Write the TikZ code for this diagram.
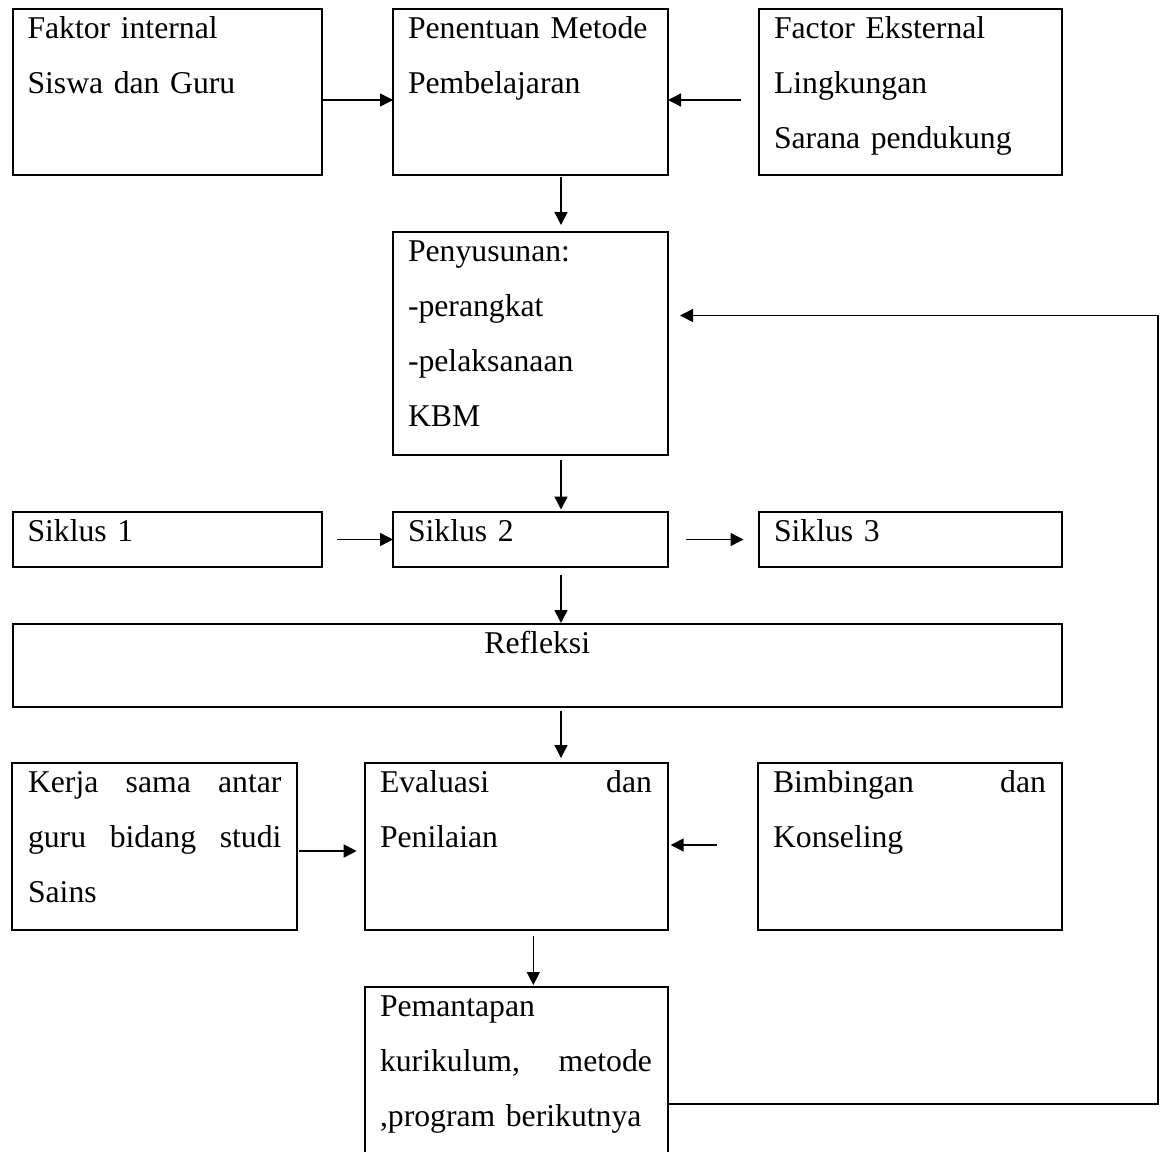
\documentclass[tikz,border=0pt]{standalone}
\usepackage{fontspec}
\setmainfont{Liberation Serif}
\usetikzlibrary{arrows.meta}
\newcommand{\boxfont}{\fontsize{31.7}{55}\selectfont}
\newcommand{\jsp}{\hskip 0pt plus 1filll\relax}

\begin{document}
\begin{tikzpicture}[
  x=1pt, y=1pt,
  box/.style   = {draw=black, line width=2pt, anchor=north west,
                  inner sep=0pt, outer sep=0pt},
  txt/.style   = {anchor=north west, inner sep=0pt, outer sep=0pt,
                  align=left, text width=#1, font=\boxfont,
                  execute at begin node=\strut},
  arr/.style   = {-{Triangle[length=13pt,width=13pt]},
                  line width=1.5pt, draw=black},
]
\useasboundingbox (0,0) rectangle (1166,-1151);

\node[box, minimum width=309.5pt, minimum height=165.5pt] (fakin) at (12.5,-9) {};
\node[box, minimum width=275pt,   minimum height=165.5pt] (penm)  at (393,-9)  {};
\node[box, minimum width=303pt,   minimum height=165.5pt] (fakek) at (759,-9)  {};
\node[box, minimum width=275pt,   minimum height=222.5pt] (pny)   at (393,-232) {};
\node[box, minimum width=309.5pt, minimum height=55pt]    (sik1)  at (12.5,-512) {};
\node[box, minimum width=275pt,   minimum height=55pt]    (sik2)  at (393,-512) {};
\node[box, minimum width=303pt,   minimum height=55pt]    (sik3)  at (759,-512) {};
\node[box, minimum width=1049.5pt, minimum height=82.5pt] (refl)  at (12.5,-624) {};
\node[box, minimum width=285pt,   minimum height=167pt]   (kerja) at (12,-763)  {};
\node[box, minimum width=303pt,   minimum height=167pt]   (eval)  at (365,-763) {};
\node[box, minimum width=304pt,   minimum height=167pt]   (bimb)  at (758,-763) {};
\node[box, minimum width=303pt,   minimum height=234pt]   (pmt)   at (365,-987) {};

\node[txt=278pt] (fakintx) at ([xshift=15pt,yshift=9pt]fakin.north west)
    {Faktor internal\\Siswa dan Guru};
\node[txt=244pt] (penmtx) at ([xshift=15pt,yshift=9pt]penm.north west)
    {Penentuan Metode\\Pembelajaran};
\node[txt=272pt] (fakektx) at ([xshift=15pt,yshift=9pt]fakek.north west)
    {Factor Eksternal\\Lingkungan\\Sarana pendukung};
\node[txt=244pt] (pnytx) at ([xshift=15pt,yshift=9pt]pny.north west)
    {Penyusunan:\\-perangkat\\-pelaksanaan\\KBM};
\node[txt=278pt] (sik1tx) at ([xshift=15pt,yshift=9pt]sik1.north west) {Siklus 1};
\node[txt=244pt] (sik2tx) at ([xshift=15pt,yshift=9pt]sik2.north west) {Siklus 2};
\node[txt=272pt] (sik3tx) at ([xshift=15pt,yshift=9pt]sik3.north west) {Siklus 3};
\node[txt=400pt, align=center, anchor=north] (refltx)
    at ([yshift=9pt]refl.north) {Refleksi};
\node[txt=253.5pt] (kerjatx) at ([xshift=16pt,yshift=9pt]kerja.north west)
    {Kerja\jsp sama\jsp antar\\guru\jsp bidang\jsp studi\\Sains};
\node[txt=272pt] (evaltx) at ([xshift=15pt,yshift=9pt]eval.north west)
    {Evaluasi\jsp dan\\Penilaian};
\node[txt=273pt] (bimbtx) at ([xshift=15pt,yshift=9pt]bimb.north west)
    {Bimbingan\jsp dan\\Konseling};
\node[txt=272pt] (pmttx) at ([xshift=15pt,yshift=9pt]pmt.north west)
    {Pemantapan\\kurikulum,\jsp metode\\,program berikutnya};

\draw[arr] ([yshift=-8.25pt]fakin.east) -- ([yshift=-8.25pt]penm.west);
\draw[arr, shorten <=18pt] ([yshift=-8.25pt]fakek.west) -- ([yshift=-8.25pt]penm.east);
\draw[arr, shorten <=2.5pt, shorten >=7pt]
    ([xshift=30.5pt]penm.south) -- ([xshift=30.5pt]pny.north);
\draw[arr, shorten <=5.5pt, shorten >=2.5pt]
    ([xshift=30.5pt]pny.south) -- ([xshift=30.5pt]sik2.north);
\draw[arr, shorten <=15pt] (sik1.east) -- (sik2.west);
\draw[arr, shorten <=17.5pt, shorten >=15.5pt] (sik2.east) -- (sik3.west);
\draw[arr, shorten <=8pt, shorten >=1pt]
    ([xshift=30.5pt]sik2.south) -- ([xshift=23.75pt]refl.north);
\draw[arr, shorten <=4.5pt, shorten >=5pt]
    ([xshift=23.75pt]refl.south) -- ([xshift=44.5pt]eval.north);
\draw[arr, shorten <=2pt, shorten >=8.3pt]
    ([yshift=-4.5pt]kerja.east) -- ([yshift=-4.5pt]eval.west);
\draw[arr, shorten <=41pt, shorten >=2.7pt]
    ([yshift=1.5pt]bimb.west) -- ([yshift=1.5pt]eval.east);
\draw[arr, shorten <=6pt, shorten >=2pt]
    ([xshift=16.8pt]eval.south) -- ([xshift=16.8pt]pmt.north);

\coordinate (fbk) at (1158,-315.5);
\draw[arr] (pmt.east) -| (fbk) -- ([xshift=12pt,yshift=27.75pt]pny.east);
\end{tikzpicture}
\end{document}
